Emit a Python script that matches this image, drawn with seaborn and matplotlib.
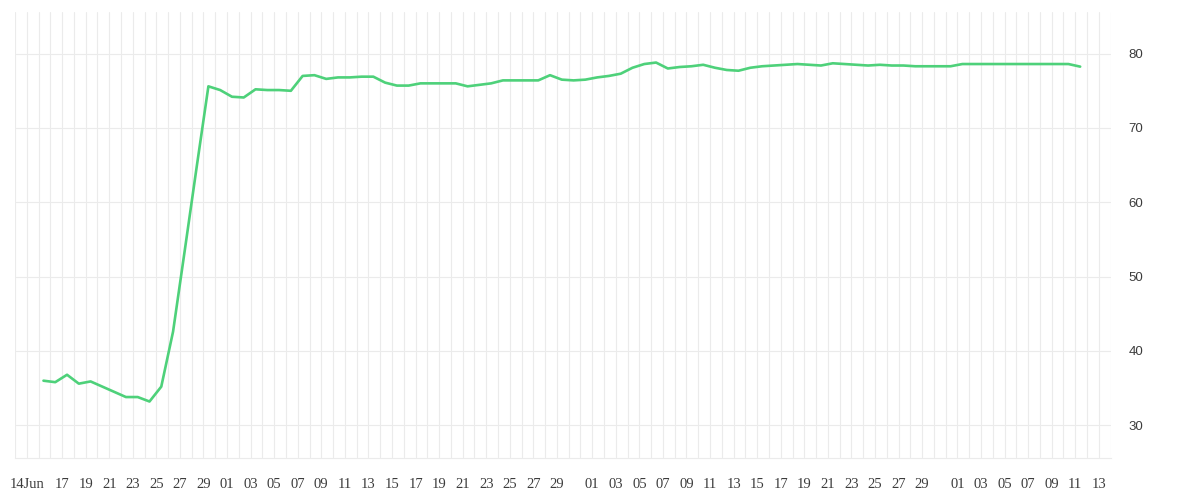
import pandas as pd
import matplotlib
matplotlib.use("Agg")
import matplotlib.pyplot as plt
import matplotlib.dates as mdates
import seaborn as sns

# daily values, 15 Jun -> 11 Sep
start = "2023-06-15 10:00"
jun = [36.0, 35.8, 36.8, 35.6, 35.9, 35.2, 34.5, 33.8, 33.8, 33.2, 35.2, 42.6,
       53.6, 64.7, 75.6, 75.1]
jul = [74.2, 74.1, 75.2, 75.1, 75.1, 75.0, 77.0, 77.1, 76.6, 76.8, 76.8, 76.9,
       76.9, 76.1, 75.7, 75.7, 76.0, 76.0, 76.0, 76.0, 75.6, 75.8, 76.0, 76.4,
       76.4, 76.4, 76.4, 77.1, 76.5, 76.4, 76.5]
aug = [76.8, 77.0, 77.3, 78.1, 78.6, 78.8, 78.0, 78.2, 78.3, 78.5, 78.1, 77.8,
       77.7, 78.1, 78.3, 78.4, 78.5, 78.6, 78.5, 78.4, 78.7, 78.6, 78.5, 78.4,
       78.5, 78.4, 78.4, 78.3, 78.3, 78.3, 78.3]
sep = [78.6, 78.6, 78.6, 78.6, 78.6, 78.6, 78.6, 78.6, 78.6, 78.6, 78.25]

tick_dates = ["2023-06-14", "2023-06-17", "2023-06-19", "2023-06-21", "2023-06-23",
              "2023-06-25", "2023-06-27", "2023-06-29"] \
    + [f"2023-07-{d:02d}" for d in range(1, 30, 2)] \
    + [f"2023-08-{d:02d}" for d in range(1, 30, 2)] \
    + [f"2023-09-{d:02d}" for d in range(1, 14, 2)]
tick_labels = ["14Jun"] + [d[-2:] for d in tick_dates[1:]]
y_ticks = [30, 40, 50, 60, 70, 80]

values = jun + jul + aug + sep
df = pd.DataFrame({"date": pd.date_range(start, periods=len(values), freq="D"),
                   "value": values})

sns.set_style("white")
grid_col = "#ebebeb"

fig = plt.figure(figsize=(12, 5), dpi=100)
ax = fig.add_axes([0.0125, 0.084, 0.913, 0.892])

sns.lineplot(data=df, x="date", y="value", color="#4ed17a", linewidth=1.9, ax=ax)

ax.set_xlim(pd.Timestamp("2023-06-13"), pd.Timestamp("2023-09-14"))
ax.set_ylim(25.6, 85.6)

ax.xaxis.set_minor_locator(mdates.DayLocator())
ax.set_xticks(pd.to_datetime(tick_dates))
ax.set_xticklabels(tick_labels, family="Liberation Serif", fontsize=10.5, color="#3c3c3c")
ax.tick_params(axis="x", which="both", length=7.2, width=0.8, color=grid_col, pad=7)

ax.yaxis.tick_right()
ax.set_yticks(y_ticks)
ax.set_yticklabels([str(v) for v in y_ticks], family="Liberation Sans",
                   fontsize=9.5, color="#3c3c3c")
ax.tick_params(axis="y", length=0, pad=13)

ax.grid(True, which="both", axis="x", color=grid_col, linewidth=0.8)
ax.grid(True, which="major", axis="y", color=grid_col, linewidth=0.8)
ax.set_axisbelow(True)

for side in ["top", "left", "right"]:
    ax.spines[side].set_visible(False)
ax.spines["bottom"].set_color(grid_col)
ax.spines["bottom"].set_linewidth(0.8)

ax.set_xlabel("")
ax.set_ylabel("")

fig.savefig("out.png", dpi=100)
